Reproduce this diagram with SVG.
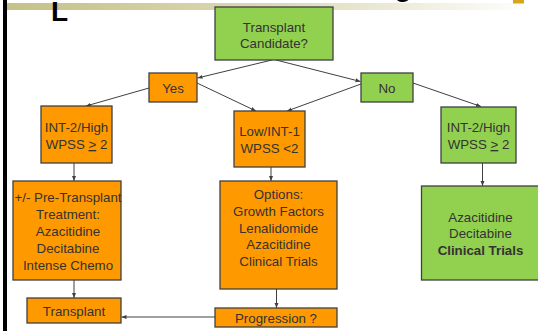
<svg xmlns="http://www.w3.org/2000/svg" width="538" height="331" viewBox="0 0 538 331">
<defs>
<linearGradient id="bar" x1="0" y1="0" x2="1" y2="0">
<stop offset="0" stop-color="#c5c187"/>
<stop offset="0.5" stop-color="#dcd9b6"/>
<stop offset="1" stop-color="#ffffff"/>
</linearGradient>
<marker id="arr" viewBox="0 0 10 10" refX="10" refY="5" markerWidth="5" markerHeight="5" orient="auto" markerUnits="userSpaceOnUse">
<path d="M0,1 L10,5 L0,9 Z" fill="#404040"/>
</marker>
<style>
.o{fill:#ff9900;stroke:#404040;stroke-width:1.3}
.g{fill:#92d050;stroke:#404040;stroke-width:1.3}
.t{font-family:"Liberation Sans",Arial,sans-serif;font-size:13.3px;fill:#333333;text-anchor:middle}
.b{font-weight:bold}
.c{stroke:#404040;stroke-width:1;fill:none;marker-end:url(#arr)}
</style>
</defs>
<rect x="0" y="0" width="538" height="331" fill="#ffffff"/>
<rect x="7" y="3" width="528" height="7" fill="url(#bar)"/>
<rect x="3" y="0" width="4" height="331" fill="#000000"/>
<rect x="513" y="0" width="11" height="3.5" fill="#d6a51c"/>
<text x="51" y="21" font-family="Liberation Sans,Arial,sans-serif" font-size="28" font-weight="bold" fill="#000">L</text>
<text x="394.5" y="-4.4" font-family="Liberation Sans,Arial,sans-serif" font-size="28" font-weight="bold" fill="#000">g</text>

<g id="connectors">
<line class="c" x1="272" y1="60" x2="197.5" y2="78"/>
<line class="c" x1="276" y1="60" x2="360.5" y2="81.5"/>
<line class="c" x1="149" y1="88" x2="86" y2="106"/>
<line class="c" x1="197" y1="83" x2="256" y2="111"/>
<line class="c" x1="361" y1="84" x2="287" y2="111"/>
<line class="c" x1="413" y1="83" x2="481" y2="106.5"/>
<line class="c" x1="74" y1="163" x2="74" y2="181"/>
<line class="c" x1="271" y1="167" x2="271" y2="181"/>
<line class="c" x1="482.5" y1="163" x2="482.5" y2="186"/>
<line class="c" x1="74" y1="280" x2="74" y2="298"/>
<line class="c" x1="276.5" y1="289" x2="276.5" y2="308"/>
<line class="c" x1="215" y1="317" x2="121.5" y2="317"/>
</g>

<g id="candidate">
<rect class="g" x="215" y="7" width="118" height="53"/>
<text class="t" x="274" y="31.5">Transplant</text>
<text class="t" x="274" y="48">Candidate?</text>
</g>
<g id="yes">
<rect class="o" x="149" y="73" width="48" height="29"/>
<text class="t" x="173" y="92.5">Yes</text>
</g>
<g id="no">
<rect class="g" x="361" y="73" width="52" height="29"/>
<text class="t" x="387" y="92.5">No</text>
</g>
<g id="int2-left">
<rect class="o" x="41" y="106" width="71" height="57"/>
<text class="t" x="76.5" y="131.5">INT-2/High</text>
<text class="t" x="76.5" y="149">WPSS <tspan text-decoration="underline">&gt;</tspan> 2</text>
</g>
<g id="low-int1">
<rect class="o" x="234" y="111" width="71" height="56"/>
<text class="t" x="269.5" y="135.5">Low/INT-1</text>
<text class="t" x="269.5" y="152.5">WPSS &lt;2</text>
</g>
<g id="int2-right">
<rect class="g" x="441" y="107" width="75" height="56"/>
<text class="t" x="478.5" y="131.5">INT-2/High</text>
<text class="t" x="478.5" y="149">WPSS <tspan text-decoration="underline">&gt;</tspan> 2</text>
</g>
<g id="pre-transplant">
<rect class="o" x="13" y="181" width="108" height="99"/>
<text class="t" x="68" y="202" font-size="13">+/- Pre-Transplant</text>
<text class="t" x="68" y="219">Treatment:</text>
<text class="t" x="68" y="236">Azacitidine</text>
<text class="t" x="68" y="253">Decitabine</text>
<text class="t" x="68" y="269.5">Intense Chemo</text>
</g>
<g id="options">
<rect class="o" x="220" y="181" width="117" height="108"/>
<text class="t" x="278.5" y="199">Options:</text>
<text class="t" x="278.5" y="215.7">Growth Factors</text>
<text class="t" x="278.5" y="232.5">Lenalidomide</text>
<text class="t" x="278.5" y="249.3">Azacitidine</text>
<text class="t" x="278.5" y="266">Clinical Trials</text>
</g>
<g id="green-options">
<rect class="g" x="421.5" y="186" width="120" height="94"/>
<text class="t" x="480.5" y="221.7">Azacitidine</text>
<text class="t" x="480.5" y="238.3">Decitabine</text>
<text class="t b" x="480.5" y="255">Clinical  Trials</text>
</g>
<g id="transplant">
<rect class="o" x="27" y="298" width="94" height="25"/>
<text class="t" x="74" y="315.5">Transplant</text>
</g>
<g id="progression">
<rect class="o" x="215" y="308" width="122" height="19"/>
<text class="t" x="276" y="322.5">Progression ?</text>
</g>
</svg>
